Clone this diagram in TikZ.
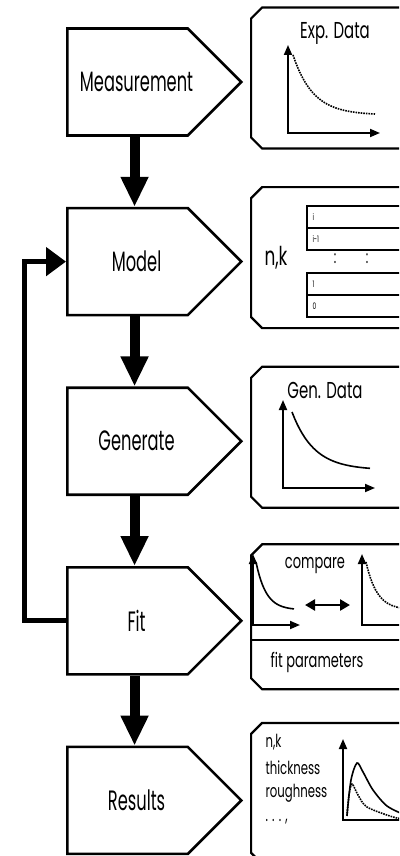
\documentclass[tikz,border=0pt]{standalone}
\usepackage{fontspec}
\setmainfont{Poppins}[FakeStretch=0.65]
\newfontfamily\stagefont{Poppins}[FakeStretch=0.58]
\usetikzlibrary{positioning,shapes.symbols,arrows.meta}

% outline of a result panel, corners cut on the left
\newcommand\panelframe[1]{%
    \draw[line width=2.2pt] ([xshift=20pt]#1.north east) -- ([xshift=11pt]#1.north west)
        -- ([yshift=-11pt]#1.north west) -- ([yshift=11pt]#1.south west)
        -- ([xshift=11pt]#1.south west) -- ([xshift=20pt]#1.south east);}

\begin{document}
\begin{tikzpicture}[x=1pt, y=-1pt, node distance={70pt}, line join=miter,
    stage/.style = {draw, line width=2.6pt, signal, signal to=east, signal pointer angle=90,
        minimum width=174pt, minimum height=107pt, inner sep=0pt,
        label={[font=\stagefont\fontsize{28}{30}\selectfont, xshift=9pt]center:#1}},
    panel/.style = {rectangle, minimum width=163pt, minimum height=141pt, inner sep=0pt, outer sep=0pt},
    flow/.style = {line width=10pt, -{Triangle[width=26pt,length=30pt]}},
    feedback/.style = {line width=5pt, -{Triangle[width=28pt,length=20pt]}},
    axis/.style = {line width=1.8pt, {Triangle[width=8pt,length=10pt]}-{Triangle[width=8pt,length=10pt]}},
    big/.style = {font=\fontsize{23}{25}\selectfont},
    mid/.style = {font=\fontsize{20}{22}\selectfont},
    small/.style = {font=\fontsize{18}{19}\selectfont},
    tiny/.style = {font=\fontsize{9}{10}\selectfont}]

    \useasboundingbox (0,0) rectangle (399,856);
    \clip (0,0) rectangle (399,856);

    % stages
    \node[stage=Measurement, anchor=west] (meas) at (66,82) {};
    \node[stage=Model] (model) [below=of meas] {};
    \node[stage=Generate] (gen) [below=of model] {};
    \node[stage=Fit] (fit) [below=of gen] {};
    \node[stage=Results] (res) [below=of fit] {};

    \draw[flow] ([xshift=7pt]meas.south) -- ([xshift=7pt]model.north);
    \draw[flow] ([xshift=7pt]model.south) -- ([xshift=7pt]gen.north);
    \draw[flow] ([xshift=7pt]gen.south) -- ([xshift=7pt]fit.north);
    \draw[flow] ([xshift=7pt]fit.south) -- ([xshift=7pt]res.north);

    \draw[feedback] (fit.west) -- ++(-42pt,0) |- (model.west);

    % panels
    \node[panel] (exppanel) [right=8pt of meas, yshift=4pt] {};
    \node[panel] (nkpanel) [right=8pt of model, yshift=4pt] {};
    \node[panel] (genpanel) [right=8pt of gen, yshift=4pt] {};
    \node[panel, minimum height=145pt] (fitpanel) [right=8pt of fit, yshift=4pt] {};
    \node[panel] (respanel) [right=8pt of res, yshift=7pt] {};
    \panelframe{exppanel}
    \panelframe{nkpanel}
    \panelframe{genpanel}
    \panelframe{fitpanel}
    \panelframe{respanel}

    % measured data
    \node[big] (explabel) at (335,33) {Exp. Data};
    \draw[axis] (288,45) -- (288,133) -- (380,133);
    \draw[densely dotted, line width=1.6pt] plot[domain=293:375, samples=30] (\x, {115-60*exp(-(\x-293)/20)});

    % model table
    \node[font=\fontsize{26}{28}\selectfont] (nklabel) at (276,258) {n,k};
    \draw[line width=1.6pt] (307,206) rectangle (410,250) (307,228) -- (410,228);
    \draw[line width=1.6pt] (307,273) rectangle (410,317) (307,295) -- (410,295);
    \node[tiny, anchor=west] at (309,217) {i};
    \node[tiny, anchor=west] at (309,239) {i-1};
    \node[tiny, anchor=west] at (309,284) {1};
    \node[tiny, anchor=west] at (309,306) {0};
    \node[small] at (335,259) {:};
    \node[small] at (367,259) {:};

    % generated data
    \node[big] (genlabel) at (325,390) {Gen. Data};
    \draw[axis] (283,400) -- (283,488) -- (375,488);
    \draw[line width=1.6pt] plot[domain=292:370, samples=30] (\x, {470-58*exp(-(\x-292)/22)});

    % comparison
    \draw[line width=2.2pt] (fitpanel.west |- 0,640) -- (410,640);
    \draw[axis] (253,554) -- (253,625) -- (300,625);
    \draw[line width=1.6pt] plot[domain=256:294, samples=25] (\x, {610-48*exp(-(\x-256)/10)});
    \node[mid] (cmplabel) at (315,566) {compare};
    \draw[line width=2.6pt, {Triangle[width=11pt,length=10pt]}-{Triangle[width=11pt,length=10pt]}] (305,605) -- (350,605);
    \draw[axis] (362,554) -- (362,625) -- (420,625);
    \draw[densely dotted, line width=1.6pt] plot[domain=366:405, samples=25] (\x, {610-48*exp(-(\x-366)/11)});
    \node[mid] (fitlabel) at (317,662) {fit parameters};

    % results
    \node[small, anchor=west] at (262,742) {n,k};
    \node[small, anchor=west] at (262,768) {thickness};
    \node[small, anchor=west] at (262,793) {roughness};
    \node[small, anchor=west] at (262,822) {. . . ,};
    \draw[axis] (343,739) -- (343,820) -- (420,820);
    \draw[line width=1.6pt] plot[smooth] coordinates {(347,815) (351,780) (357,763) (363,772) (373,790) (387,806) (405,815)};
    \draw[densely dotted, line width=1.6pt] plot[smooth] coordinates {(347,816) (349,795) (352,784) (358,795) (367,807) (393,817) (405,819)};

\end{tikzpicture}
\end{document}
